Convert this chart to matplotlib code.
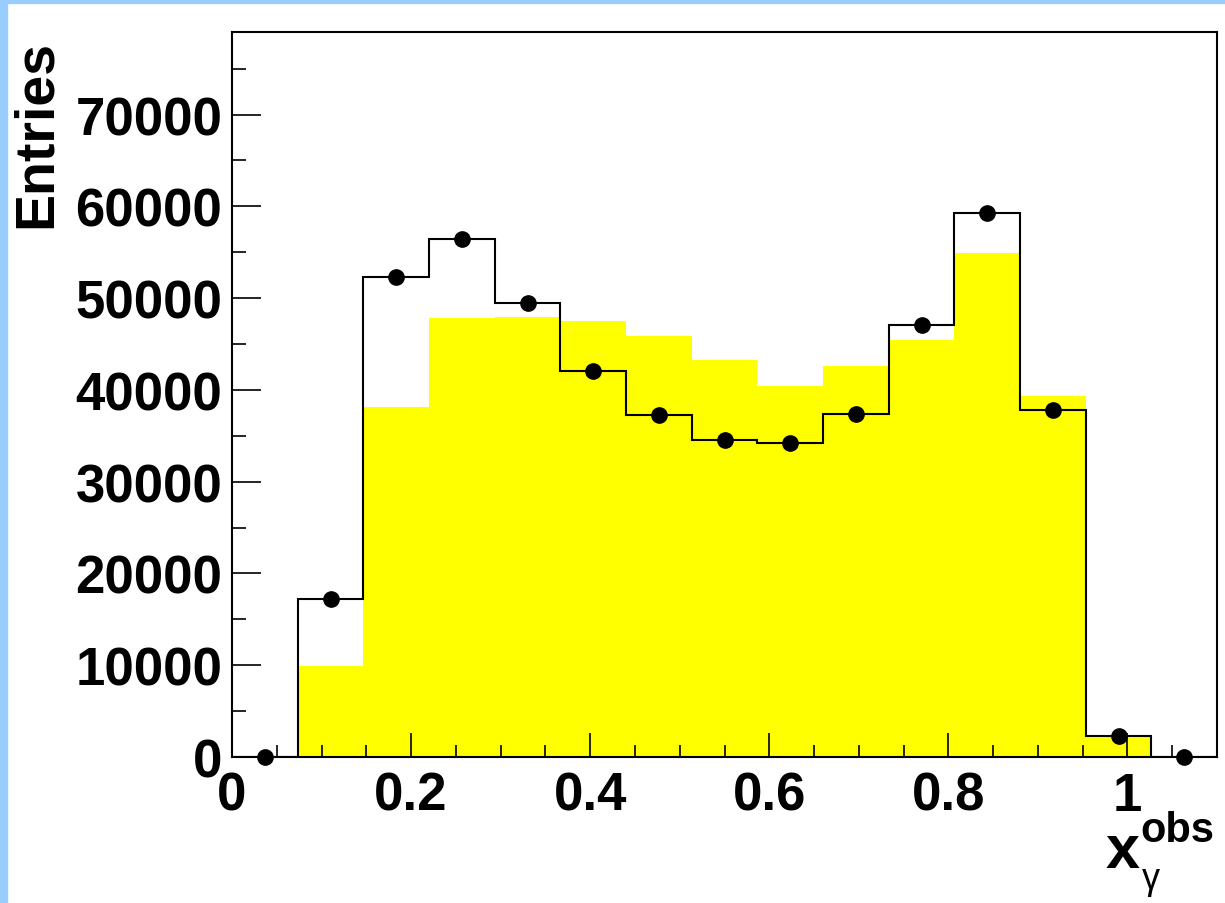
import matplotlib
matplotlib.use("Agg")
import matplotlib.pyplot as plt
from matplotlib.patches import Rectangle
from matplotlib.ticker import MultipleLocator
import numpy as np

# histogram binning: 15 bins between 0 and 1.1
x_min = 0.0
x_max = 1.1
n_bins = 15

# data (points + black outline) and MC (yellow filled)
data_counts = [0, 17200, 52300, 56400, 49500, 42100, 37300, 34500,
               34200, 37400, 47100, 59300, 37800, 2300, 0]
mc_counts = [0, 9900, 38100, 47800, 47900, 47500, 45900, 43300,
             40400, 42600, 45400, 54900, 39300, 2300, 0]

x_ticks = [0, 0.2, 0.4, 0.6, 0.8, 1]
x_tick_labels = ["0", "0.2", "0.4", "0.6", "0.8", "1"]
y_ticks = [0, 10000, 20000, 30000, 40000, 50000, 60000, 70000]

plt.rcParams["font.family"] = ["Liberation Sans", "DejaVu Sans"]
plt.rcParams["font.weight"] = "bold"

fig = plt.figure(figsize=(12.25, 9.04), dpi=100)
ax = fig.add_axes([232 / 1225, 1 - 758 / 904, 985 / 1225, 725 / 904])

edges = np.linspace(x_min, x_max, n_bins + 1)
centers = 0.5 * (edges[:-1] + edges[1:])

ax.stairs(mc_counts, edges, fill=True, color="#ffff00", zorder=1)
ax.stairs(data_counts, edges, color="black", linewidth=1.5, baseline=0, zorder=2)
ax.plot(centers, data_counts, "o", color="black", markersize=11, zorder=3, clip_on=False)

ax.set_xlim(x_min, x_max)
ax.set_ylim(0, 79000)

ax.set_xticks(x_ticks)
ax.set_xticklabels(x_tick_labels)
ax.set_yticks(y_ticks)
ax.xaxis.set_minor_locator(MultipleLocator(0.05))
ax.yaxis.set_minor_locator(MultipleLocator(5000))

ax.tick_params(axis="both", which="both", direction="in", width=1.2, labelsize=38)
ax.tick_params(axis="x", which="major", length=17, pad=10)
ax.tick_params(axis="x", which="minor", length=9)
ax.tick_params(axis="y", which="major", length=21, pad=7)
ax.tick_params(axis="y", which="minor", length=10)
for lbl in ax.get_xticklabels() + ax.get_yticklabels():
    lbl.set_fontweight("bold")

for spine in ax.spines.values():
    spine.set_linewidth(1.5)
    spine.set_zorder(4)

# axis titles (ROOT style, placed at the axis ends)
fig.text(37 / 1225, 1 - 40 / 904, "Entries", rotation=90, ha="center", va="top",
         fontsize=40, fontweight="bold")
fig.text(1106 / 1225, 1 - 868 / 904, "x", ha="left", va="baseline",
         fontsize=44, fontweight="bold")
fig.text(1140 / 1225, 1 - 842 / 904, "obs", ha="left", va="baseline",
         fontsize=30, fontweight="bold")
fig.text(1142 / 1225, 1 - 889 / 904, "\u03b3", ha="left", va="baseline",
         fontsize=26, fontweight="normal")

# light blue canvas border (left and top)
fig.patches.append(Rectangle((0, 0), 7 / 1225, 1, transform=fig.transFigure,
                             color="#99ccff", zorder=0))
fig.patches.append(Rectangle((0, 1 - 4 / 904), 1, 4 / 904, transform=fig.transFigure,
                             color="#99ccff", zorder=0))

fig.savefig("out.png", dpi=100)
